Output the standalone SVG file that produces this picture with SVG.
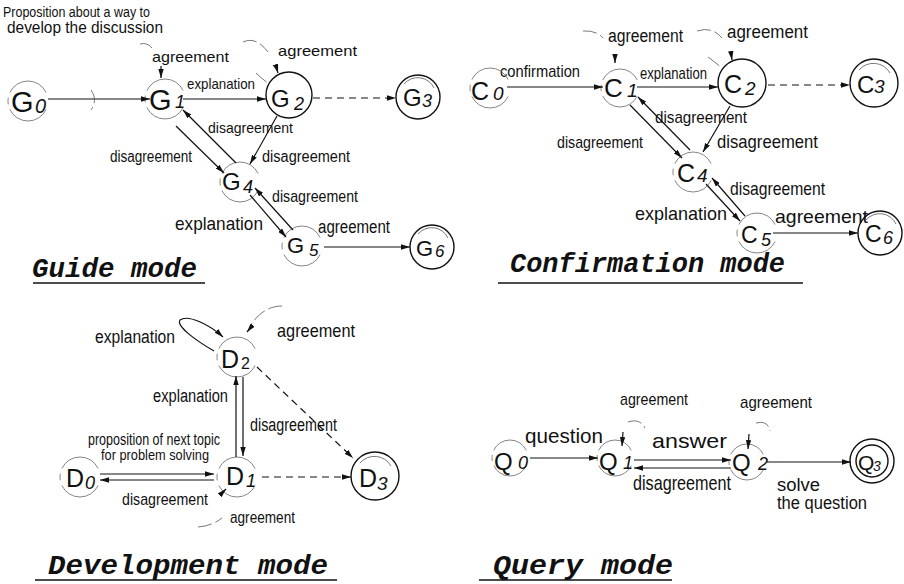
<svg xmlns="http://www.w3.org/2000/svg" width="904" height="584" viewBox="0 0 904 584">
<defs>
<marker id="a" viewBox="0 0 10 6" refX="10" refY="3" markerWidth="9" markerHeight="5.4" markerUnits="userSpaceOnUse" orient="auto"><path d="M0,0 L10,3 L0,6 z" fill="#111"/></marker>
<style>
.ln{stroke:#111;stroke-width:1.2;fill:none}
.dl{stroke-dasharray:7 5}
.lp{stroke:#555;stroke-width:0.8;fill:none;stroke-dasharray:14 4}
.nc{fill:none;stroke:#666;stroke-width:0.8;stroke-dasharray:130 15 20 15 130 50;stroke-dashoffset:335}
.sc{fill:none;stroke:#111;stroke-width:1.4}
.ic{fill:none;stroke:#555;stroke-width:0.8}
text{fill:#111}
.lb{font-family:"Liberation Sans Narrow","Liberation Sans",Arial,sans-serif}
.nd{font-family:"Liberation Sans",Arial,sans-serif}
.it{font-family:"Liberation Sans",Arial,sans-serif;font-style:italic}
.ti{font-family:"Liberation Mono","Courier New",monospace;font-weight:bold;font-style:italic}
</style>
</defs>
<rect width="904" height="584" fill="#fff"/>

<!-- ================= Guide mode ================= -->
<g id="guide-labels" class="lb">
<text x="3" y="17" font-size="14" textLength="147" lengthAdjust="spacingAndGlyphs">Proposition about a way to</text>
<text x="7" y="33" font-size="16" textLength="156" lengthAdjust="spacingAndGlyphs">develop the discussion</text>
<text x="152" y="62" font-size="15" textLength="77" lengthAdjust="spacingAndGlyphs">agreement</text>
<text x="278" y="56" font-size="15" textLength="79" lengthAdjust="spacingAndGlyphs">agreement</text>
<text x="187" y="89" font-size="15" textLength="68" lengthAdjust="spacingAndGlyphs">explanation</text>
<text x="208" y="133" font-size="15" textLength="85" lengthAdjust="spacingAndGlyphs">disagreement</text>
<text x="110" y="162" font-size="16" textLength="82" lengthAdjust="spacingAndGlyphs">disagreement</text>
<text x="262" y="162" font-size="16" textLength="88" lengthAdjust="spacingAndGlyphs">disagreement</text>
<text x="272" y="202" font-size="17" textLength="86" lengthAdjust="spacingAndGlyphs">disagreement</text>
<text x="175" y="230" font-size="19" textLength="88" lengthAdjust="spacingAndGlyphs">explanation</text>
<text x="318" y="233" font-size="18" textLength="72" lengthAdjust="spacingAndGlyphs">agreement</text>
</g>
<g id="G0"><circle class="nc" cx="28" cy="101" r="20" pathLength="360"/><text class="nd" x="11" y="112" font-size="29">G</text><text class="it" x="35" y="113" font-size="20">0</text></g>
<g id="G1"><circle class="nc" cx="165" cy="99" r="20" pathLength="360"/><text class="nd" x="149" y="110" font-size="29">G</text><text class="it" x="175" y="108" font-size="18">1</text></g>
<g id="G2"><circle class="sc" cx="289" cy="95" r="23"/><text class="nd" x="271" y="107" font-size="24">G</text><text class="it" x="294" y="110" font-size="18">2</text></g>
<g id="G3"><circle class="sc" cx="418" cy="97" r="22"/><path class="ic" d="M404 84 A18 18 0 0 1 434 88"/><text class="nd" x="403" y="106" font-size="24">G</text><text class="it" x="422" y="107" font-size="18">3</text></g>
<g id="G4"><circle class="nc" cx="240" cy="182" r="20" pathLength="360"/><text class="nd" x="222" y="190" font-size="24">G</text><text class="it" x="243" y="193" font-size="18">4</text></g>
<g id="G5"><circle class="nc" cx="302" cy="246" r="20" pathLength="360"/><text class="nd" x="287" y="253" font-size="22">G</text><text class="it" x="309" y="256" font-size="17">5</text></g>
<g id="G6"><circle class="sc" cx="432" cy="247" r="22"/><path class="ic" d="M418 234 A18 18 0 0 1 448 238"/><text class="nd" x="416" y="256" font-size="22">G</text><text class="it" x="435" y="257" font-size="17">6</text></g>
<g id="guide-title"><text class="ti" x="32" y="277" font-size="27" textLength="165" lengthAdjust="spacingAndGlyphs">Guide mode</text><line x1="33" y1="283" x2="205" y2="283" stroke="#111" stroke-width="1.5"/></g>

<g id="guide-connectors">
<line class="ln" x1="48" y1="99" x2="150" y2="99" marker-end="url(#a)"/>
<path class="lp" d="M91 90 Q98 100 91 110"/>
<path class="lp" d="M140 44 Q147 42 152 48"/>
<line class="ln" x1="161" y1="66" x2="161" y2="78" stroke-width="1" marker-end="url(#a)"/>
<line class="ln" x1="183" y1="99" x2="266" y2="99" marker-end="url(#a)"/>
<path class="lp" d="M243 42 Q256 36 268 52"/>
<path class="lp" d="M256 73 Q262 79 268 83"/>
<line class="ln" x1="276" y1="66" x2="278" y2="73" stroke-width="1" marker-end="url(#a)"/>
<line class="ln dl" x1="313" y1="98" x2="396" y2="98" marker-end="url(#a)"/>
<line class="ln" x1="176" y1="126" x2="224" y2="173" marker-end="url(#a)"/>
<line class="ln" x1="236" y1="163" x2="183" y2="110" marker-end="url(#a)"/>
<line class="ln" x1="277" y1="116" x2="250" y2="164" marker-end="url(#a)"/>
<line class="ln" x1="293" y1="230" x2="255" y2="188" marker-end="url(#a)"/>
<line class="ln" x1="250" y1="195" x2="286" y2="237" marker-end="url(#a)"/>
<line class="ln" x1="324" y1="247" x2="410" y2="247" marker-end="url(#a)"/>
</g>

<!-- ================= Confirmation mode ================= -->
<g id="conf-labels" class="lb">
<text x="500" y="77" font-size="17" textLength="80" lengthAdjust="spacingAndGlyphs">confirmation</text>
<text x="608" y="42" font-size="18" textLength="75" lengthAdjust="spacingAndGlyphs">agreement</text>
<text x="727" y="38" font-size="18" textLength="81" lengthAdjust="spacingAndGlyphs">agreement</text>
<text x="640" y="79" font-size="17" textLength="67" lengthAdjust="spacingAndGlyphs">explanation</text>
<text x="655" y="123" font-size="17" textLength="92" lengthAdjust="spacingAndGlyphs">disagreement</text>
<text x="557" y="148" font-size="17" textLength="86" lengthAdjust="spacingAndGlyphs">disagreement</text>
<text x="717" y="148" font-size="19" textLength="101" lengthAdjust="spacingAndGlyphs">disagreement</text>
<text x="730" y="195" font-size="19" textLength="95" lengthAdjust="spacingAndGlyphs">disagreement</text>
<text x="635" y="220" font-size="19" textLength="92" lengthAdjust="spacingAndGlyphs">explanation</text>
<text x="775" y="223" font-size="19" textLength="93" lengthAdjust="spacingAndGlyphs">agreement</text>
</g>
<g id="C0"><circle class="nc" cx="490" cy="88" r="20" pathLength="360"/><text class="nd" x="471" y="100" font-size="25">C</text><text class="it" x="493" y="100" font-size="19">0</text></g>
<g id="C1"><circle class="nc" cx="620" cy="88" r="19" pathLength="360"/><text class="nd" x="604" y="97" font-size="26">C</text><text class="it" x="627" y="97" font-size="19">1</text></g>
<g id="C2"><circle class="sc" cx="742" cy="83" r="24"/><text class="nd" x="724" y="93" font-size="25">C</text><text class="it" x="745" y="95" font-size="19">2</text></g>
<g id="C3"><circle class="sc" cx="874" cy="83" r="24"/><path class="ic" d="M859 70 A19 19 0 0 1 890 73"/><text class="nd" x="857" y="93" font-size="24">C</text><text class="it" x="874" y="93" font-size="19">3</text></g>
<g id="C4"><circle class="nc" cx="693" cy="172" r="20" pathLength="360"/><text class="nd" x="677" y="182" font-size="25">C</text><text class="it" x="697" y="182" font-size="19">4</text></g>
<g id="C5"><circle class="nc" cx="757" cy="233" r="20" pathLength="360"/><text class="nd" x="741" y="243" font-size="23">C</text><text class="it" x="761" y="246" font-size="18">5</text></g>
<g id="C6"><circle class="sc" cx="880" cy="233" r="22"/><path class="ic" d="M866 220 A18 18 0 0 1 896 224"/><text class="nd" x="865" y="242" font-size="23">C</text><text class="it" x="883" y="244" font-size="18">6</text></g>
<g id="conf-title"><text class="ti" x="510" y="272" font-size="27" textLength="275" lengthAdjust="spacingAndGlyphs">Confirmation mode</text><line x1="498" y1="283" x2="803" y2="283" stroke="#111" stroke-width="1.5"/></g>

<g id="conf-connectors">
<line class="ln" x1="507" y1="87" x2="603" y2="87" marker-end="url(#a)"/>
<path class="lp" d="M583 31 Q596 30 603 38"/>
<line class="ln" x1="615" y1="55" x2="615" y2="63" stroke-width="1" marker-end="url(#a)"/>
<line class="ln" x1="637" y1="87" x2="718" y2="87" marker-end="url(#a)"/>
<path class="lp" d="M697 31 Q712 26 722 38"/>
<path class="lp" d="M708 57 Q716 63 722 68"/>
<line class="ln" x1="731" y1="53" x2="732" y2="60" stroke-width="1" marker-end="url(#a)"/>
<line class="ln dl" x1="768" y1="85" x2="850" y2="85" marker-end="url(#a)"/>
<line class="ln" x1="630" y1="105" x2="682" y2="158" marker-end="url(#a)"/>
<line class="ln" x1="690" y1="150" x2="638" y2="97" marker-end="url(#a)"/>
<line class="ln" x1="730" y1="106" x2="703" y2="152" marker-end="url(#a)"/>
<line class="ln" x1="745" y1="216" x2="712" y2="178" marker-end="url(#a)"/>
<line class="ln" x1="706" y1="184" x2="740" y2="221" marker-end="url(#a)"/>
<line class="ln" x1="773" y1="233" x2="858" y2="233" marker-end="url(#a)"/>
</g>

<!-- ================= Development mode ================= -->
<g id="dev-labels" class="lb">
<text x="95" y="343" font-size="18" textLength="80" lengthAdjust="spacingAndGlyphs">explanation</text>
<text x="277" y="337" font-size="19" textLength="78" lengthAdjust="spacingAndGlyphs">agreement</text>
<text x="153" y="402" font-size="18" textLength="75" lengthAdjust="spacingAndGlyphs">explanation</text>
<text x="250" y="431" font-size="18" textLength="87" lengthAdjust="spacingAndGlyphs">disagreement</text>
<text x="88" y="445" font-size="16" textLength="132" lengthAdjust="spacingAndGlyphs">proposition of next topic</text>
<text x="101" y="460" font-size="15" textLength="108" lengthAdjust="spacingAndGlyphs">for problem solving</text>
<text x="122" y="505" font-size="17" textLength="86" lengthAdjust="spacingAndGlyphs">disagreement</text>
<text x="230" y="523" font-size="17" textLength="65" lengthAdjust="spacingAndGlyphs">agreement</text>
</g>
<g id="D0"><circle class="nc" cx="80" cy="477" r="20" pathLength="360"/><text class="nd" x="66" y="487" font-size="25">D</text><text class="it" x="85" y="489" font-size="18">0</text></g>
<g id="D1"><circle class="nc" cx="237" cy="477" r="20" pathLength="360"/><text class="nd" x="226" y="485" font-size="25">D</text><text class="it" x="246" y="487" font-size="18">1</text></g>
<g id="D2"><circle class="nc" cx="237" cy="357" r="20" pathLength="360"/><text class="nd" x="221" y="368" font-size="25">D</text><text class="nd" x="241" y="369" font-size="16">2</text></g>
<g id="D3"><circle class="sc" cx="375" cy="476" r="24"/><path class="ic" d="M360 463 A19 19 0 0 1 391 466"/><text class="nd" x="359" y="487" font-size="25">D</text><text class="it" x="377" y="490" font-size="19">3</text></g>
<g id="dev-title"><text class="ti" x="48" y="574" font-size="28" textLength="280" lengthAdjust="spacingAndGlyphs">Development mode</text><line x1="35" y1="580" x2="337" y2="580" stroke="#111" stroke-width="1.5"/></g>

<g id="dev-connectors">
<path class="ln" stroke-width="0.9" d="M214 351 C195 340 176 326 180 320 C188 314 210 325 223 337" marker-end="url(#a)"/>
<path class="lp" d="M282 306 C268 306 258 314 250 326"/>
<line class="ln" x1="252" y1="326" x2="247" y2="332" stroke-width="1" marker-end="url(#a)"/>
<line class="ln" x1="236" y1="457" x2="236" y2="376" marker-end="url(#a)"/>
<line class="ln" x1="243" y1="377" x2="243" y2="456" marker-end="url(#a)"/>
<line class="ln dl" x1="257" y1="367" x2="353" y2="458" marker-end="url(#a)"/>
<line class="ln dl" x1="262" y1="477" x2="351" y2="477" marker-end="url(#a)"/>
<line class="ln" x1="100" y1="474" x2="214" y2="474" marker-end="url(#a)"/>
<line class="ln" x1="214" y1="480" x2="100" y2="480" marker-end="url(#a)"/>
<path class="lp" d="M198 527 Q212 526 222 518"/>
<line class="ln" x1="220" y1="495" x2="226" y2="489" stroke-width="1" marker-end="url(#a)"/>
</g>

<!-- ================= Query mode ================= -->
<g id="query-labels" class="lb">
<text x="620" y="405" font-size="17" textLength="68" lengthAdjust="spacingAndGlyphs">agreement</text>
<text x="740" y="408" font-size="17" textLength="72" lengthAdjust="spacingAndGlyphs">agreement</text>
<text x="525" y="443" font-size="20" textLength="78" lengthAdjust="spacingAndGlyphs">question</text>
<text x="652" y="448" font-size="21" textLength="75" lengthAdjust="spacingAndGlyphs">answer</text>
<text x="633" y="490" font-size="21" textLength="98" lengthAdjust="spacingAndGlyphs">disagreement</text>
<text x="777" y="491" font-size="18" textLength="43" lengthAdjust="spacingAndGlyphs">solve</text>
<text x="777" y="509" font-size="18" textLength="90" lengthAdjust="spacingAndGlyphs">the question</text>
</g>
<g id="Q0"><circle class="nc" cx="510" cy="458" r="18" pathLength="360"/><text class="nd" x="494" y="470" font-size="24">Q</text><text class="it" x="518" y="469" font-size="18">0</text></g>
<g id="Q1"><circle class="nc" cx="615" cy="458" r="18" pathLength="360"/><text class="nd" x="599" y="470" font-size="24">Q</text><text class="it" x="623" y="469" font-size="18">1</text></g>
<g id="Q2"><circle class="nc" cx="747" cy="462" r="18" pathLength="360"/><text class="nd" x="732" y="471" font-size="24">Q</text><text class="it" x="758" y="470" font-size="18">2</text></g>
<g id="Q3"><circle class="sc" cx="872" cy="461" r="22"/><circle class="sc" cx="872" cy="461" r="16" stroke-width="1.1"/><text class="nd" x="858" y="470" font-size="21">Q</text><text class="it" x="873" y="471" font-size="14">3</text></g>
<g id="query-title"><text class="ti" x="493" y="574" font-size="28" textLength="180" lengthAdjust="spacingAndGlyphs">Query mode</text><line x1="479" y1="580" x2="672" y2="580" stroke="#111" stroke-width="1.5"/></g>

<g id="query-connectors">
<line class="ln" x1="530" y1="458" x2="598" y2="458" marker-end="url(#a)"/>
<path class="lp" d="M628 422 Q640 418 645 428"/>
<line class="ln" x1="623" y1="432" x2="622" y2="446" stroke-width="1.3" marker-end="url(#a)"/>
<line class="ln" x1="634" y1="460" x2="731" y2="460" marker-end="url(#a)"/>
<line class="ln" x1="731" y1="468" x2="634" y2="468" marker-end="url(#a)"/>
<path class="lp" d="M756 423 Q768 420 770 431"/>
<line class="ln" x1="749" y1="434" x2="748" y2="449" stroke-width="1.3" marker-end="url(#a)"/>
<line class="ln" x1="767" y1="462" x2="851" y2="462" marker-end="url(#a)"/>
</g>
</svg>
